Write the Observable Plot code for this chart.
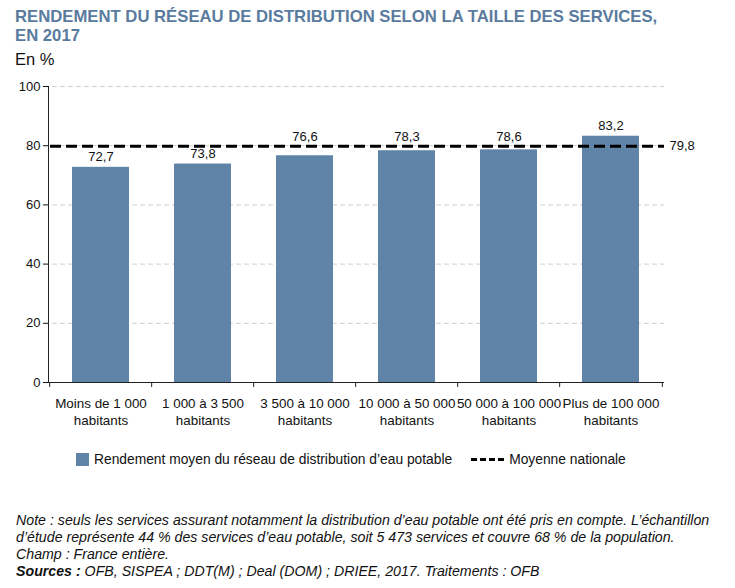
<!DOCTYPE html>
<html>
<head>
<meta charset="utf-8">
<script src="https://cdn.jsdelivr.net/npm/d3@7"></script>
<script src="https://cdn.jsdelivr.net/npm/@observablehq/plot@0.6"></script>
<style>
  body { margin: 0; background: #fff; font-family: "Liberation Sans", Arial, sans-serif; }
  #wrap { position: relative; width: 735px; height: 588px; overflow: hidden; }
  #title { position: absolute; left: 15px; top: 7px; font-weight: bold; font-size: 16.7px; line-height: 19px; color: #5a7b9e; letter-spacing: 0px; white-space: nowrap; }
  #unit { position: absolute; left: 15px; top: 50px; font-size: 16.5px; color: #111; }
  #chart { position: absolute; left: 0; top: 70px; }
  #legend { position: absolute; left: 76px; top: 452px; font-size: 13.8px; color: #111; display: flex; align-items: center; white-space: nowrap; }
  .sw { display: inline-block; width: 13px; height: 13px; background: #5f84a8; margin-right: 5px; }
  .dash { display: inline-block; width: 33px; height: 0; border-top: 3px dashed #000; margin: 0 5px 0 19px; }
  #note { position: absolute; left: 16px; top: 512px; font-size: 14.2px; line-height: 17px; font-style: italic; color: #111; white-space: nowrap; }
</style>
</head>
<body>
<div id="wrap">
  <div id="title">RENDEMENT DU RÉSEAU DE DISTRIBUTION SELON LA TAILLE DES SERVICES,<br>EN 2017</div>
  <div id="unit">En %</div>
  <div id="chart"></div>
  <div id="legend"><span class="sw"></span>Rendement moyen du réseau de distribution d’eau potable<span class="dash"></span>Moyenne nationale</div>
  <div id="note">Note : seuls les services assurant notamment la distribution d’eau potable ont été pris en compte. L’échantillon<br>d’étude représente 44 % des services d’eau potable, soit 5 473 services et couvre 68 % de la population.<br>Champ : France entière.<br><b>Sources :</b> OFB, SISPEA ; DDT(M) ; Deal (DOM) ; DRIEE, 2017. Traitements : OFB</div>
</div>
<script>
const categories = [
  "Moins de 1 000\nhabitants",
  "1 000 à 3 500\nhabitants",
  "3 500 à 10 000\nhabitants",
  "10 000 à 50 000\nhabitants",
  "50 000 à 100 000\nhabitants",
  "Plus de 100 000\nhabitants"
];
const values = [72.7, 73.8, 76.6, 78.3, 78.6, 83.2];
const nationalMean = 79.8;
const yTicks = [0, 20, 40, 60, 80, 100];
const gridTicks = [20, 40, 60, 80, 100];

const data = categories.map((c, i) => ({cat: c, value: values[i]}));
const fmt = v => v.toFixed(1).replace(".", ",");
// labels of bars just below the mean line are lifted above it to stay readable
const nearMean = d => d.value < nationalMean && d.value > nationalMean - 4;
const labelData = data.map(d => ({...d, ly: nearMean(d) ? nationalMean : d.value}));

const W = 735, mL = 48, mR = 71;
const step = (W - mL - mR) / categories.length;

const chart = Plot.plot({
  width: W,
  height: 362,
  marginTop: 16,
  marginLeft: mL,
  marginRight: mR,
  marginBottom: 50,
  style: {fontFamily: "Liberation Sans, Arial, sans-serif", fontSize: "12.5px", color: "#111", overflow: "visible"},
  x: {domain: categories, paddingInner: 0.44, paddingOuter: 0.22, label: null},
  y: {domain: [0, 100], label: null},
  marks: [
    Plot.ruleY(gridTicks, {stroke: "#cfcfcf", strokeDasharray: "5,3", strokeWidth: 1, insetLeft: 4}),
    Plot.barY(data, {x: "cat", y: "value", fill: "#5f84a8"}),
    Plot.ruleY([nationalMean], {stroke: "#000", strokeWidth: 3, strokeDasharray: "11,5", insetLeft: 2}),
    Plot.text(labelData.filter(d => !nearMean(d)), {x: "cat", y: "ly", text: d => fmt(d.value), dy: -10, fontSize: 13, fill: "#111"}),
    Plot.text(labelData.filter(nearMean), {x: "cat", y: "ly", text: d => fmt(d.value), dy: -9, fontSize: 13, fill: "#111"}),
    Plot.text([nationalMean], {y: d => d, frameAnchor: "right", textAnchor: "start", dx: 5, text: d => fmt(d), fontSize: 13, fill: "#111"}),
    Plot.ruleY([0], {stroke: "#222"}),
    Plot.frame({anchor: "left", stroke: "#222"}),
    Plot.ruleX(categories, {x: d => d, dx: -step / 2, y1: 0, y2: -1.7, stroke: "#222"}),
    Plot.ruleX(categories.slice(-1), {x: d => d, dx: step / 2, y1: 0, y2: -1.7, stroke: "#222"}),
    Plot.axisY({ticks: yTicks, tickSize: 5, tickPadding: 3, fontSize: 13, label: null}),
    Plot.axisX({tickSize: 0, tickPadding: 13, fontSize: 13.4, label: null, lineHeight: 1.28})
  ]
});
document.getElementById("chart").appendChild(chart);
</script>
</body>
</html>
